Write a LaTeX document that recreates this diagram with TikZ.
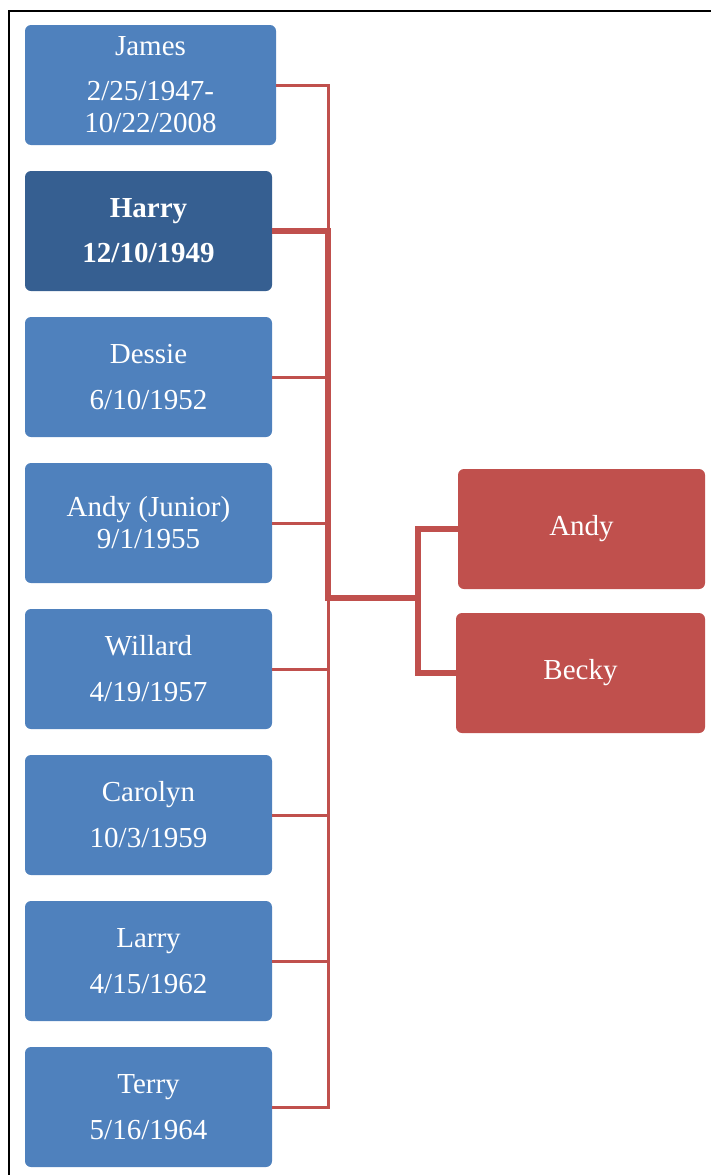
\documentclass[tikz,border=0pt]{standalone}
\usepackage{fontspec}
\setmainfont{Liberation Serif}
\usetikzlibrary{positioning}
\definecolor{kidblue}{HTML}{4F81BD}
\definecolor{selfblue}{HTML}{365F91}
\definecolor{famred}{HTML}{C0504D}

\begin{document}
\begin{tikzpicture}[x=1pt,y=-1pt]
\tikzstyle{box}=[rectangle,rounded corners=6pt,text=white,align=center,inner sep=0pt,minimum width=247pt,minimum height=120pt,font=\fontsize{29}{32}\selectfont];
\tikzstyle{kid}=[box,fill=kidblue];
\tikzstyle{self}=[box,fill=selfblue,font=\fontsize{29}{32}\selectfont\bfseries];
\tikzstyle{fam}=[box,fill=famred];
\tikzstyle{link}=[draw=famred,line width=3pt];
\tikzstyle{famlink}=[draw=famred,line width=5.5pt];
\useasboundingbox (0,0) rectangle (711,1175);
\clip (0,0) rectangle (711,1175);
\draw[line width=2.5pt] (9,11) rectangle (730,1200);
% siblings
\path (150.5,85) node[kid,minimum width=251pt] (james) {James\\[13pt]2/25/1947-\\10/22/2008};
\path (148.5,231) node[self] (harry) {Harry\\[13pt]12/10/1949};
\path (148.5,377) node[kid] (dessie) {Dessie\\[14pt]6/10/1952};
\path (148.5,523) node[kid] (andyjr) {Andy (Junior)\\9/1/1955};
\path (148.5,669) node[kid] (willard) {Willard\\[14pt]4/19/1957};
\path (148.5,815) node[kid] (carolyn) {Carolyn\\[14pt]10/3/1959};
\path (148.5,961) node[kid] (larry) {Larry\\[14pt]4/15/1962};
\path (148.5,1107) node[kid] (terry) {Terry\\[14pt]5/16/1964};
% children
\path (581.5,529) node[fam] (andy) {Andy};
\path (580.5,673) node[fam,minimum width=249pt] (becky) {Becky};
\coordinate (trunk) at (328,0);
\coordinate (fork) at (328,598);
\coordinate (split) at (418,598);
% connectors
\draw[link] (james.east) -| (terry.east -| trunk) -- (terry.east);
\draw[link] (dessie.east) -- (dessie.east -| trunk);
\draw[link] (andyjr.east) -- (andyjr.east -| trunk);
\draw[link] (willard.east) -- (willard.east -| trunk);
\draw[link] (carolyn.east) -- (carolyn.east -| trunk);
\draw[link] (larry.east) -- (larry.east -| trunk);
\draw[famlink] (harry.east) -| (fork) -- (split);
\draw[famlink] (andy.west) -| (split) |- (becky.west);
\end{tikzpicture}
\end{document}
